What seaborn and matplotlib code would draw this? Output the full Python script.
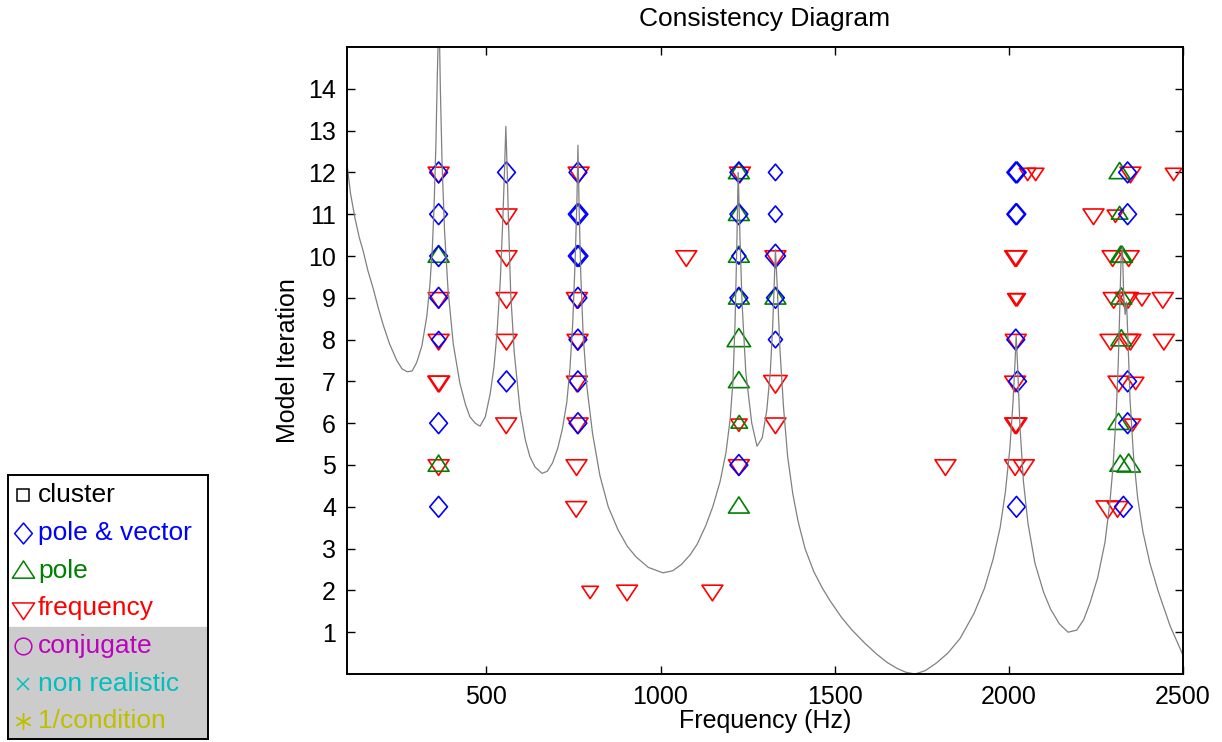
import numpy as np
import pandas as pd
import matplotlib
matplotlib.use("Agg")
import matplotlib.pyplot as plt
from matplotlib.path import Path
from matplotlib.patches import Rectangle
import seaborn as sns

# ---------------- data ----------------
# background response curve
curve_freq = [100, 110, 123, 135, 147, 160, 176, 190, 204, 222, 243, 258, 273, 287, 300,
              315, 329, 338, 345, 350, 355, 359, 364,
              368, 373, 380, 390, 405, 424, 440, 453, 468, 482, 497, 511, 522, 531,
              540, 547, 552, 556, 560, 564, 570, 580, 597, 612, 625, 640, 660, 675,
              690, 705, 718, 731, 740, 748, 755, 760, 763, 766, 771, 778, 789, 805,
              826, 850, 878, 905, 930, 965, 1007, 1035, 1060, 1085, 1105, 1130, 1150,
              1171, 1188, 1200, 1208, 1214, 1219, 1223, 1228, 1234, 1245, 1262, 1277,
              1292, 1305, 1315, 1322, 1327, 1330, 1335, 1343, 1353, 1365, 1380, 1395,
              1415, 1440, 1465, 1487, 1520, 1550, 1585, 1620, 1650, 1680, 1705, 1731,
              1760, 1790, 1825, 1860, 1900, 1930, 1955, 1975, 1990, 2003, 2012, 2018,
              2021, 2025, 2032, 2042, 2055, 2075, 2100, 2120, 2145, 2170, 2195, 2215,
              2233, 2255, 2276, 2290, 2299, 2308, 2314, 2318, 2322, 2326, 2330, 2334,
              2338, 2342, 2348, 2358, 2370, 2385, 2405, 2430, 2463, 2500]
curve_amp = [12.2, 11.5, 10.9, 10.45, 10.1, 9.65, 9.2, 8.75, 8.35, 7.9, 7.5, 7.3, 7.23, 7.25, 7.45,
             7.85, 8.55, 9.3, 10.2, 11.2, 12.6, 14.2, 16.0,
             14.0, 12.2, 10.6, 9.2, 7.9, 6.96, 6.45, 6.15, 6.0, 5.93, 6.15, 6.7, 7.35, 8.2,
             9.4, 10.8, 12.0, 13.1, 12.0, 10.7, 9.1, 7.7, 6.3, 5.6, 5.2, 4.95, 4.8, 4.85,
             5.05, 5.4, 5.85, 6.5, 7.3, 8.4, 9.9, 11.3, 12.65, 11.3, 9.6, 8.1, 6.85, 5.75,
             4.75, 4.0, 3.45, 3.05, 2.8, 2.55, 2.42, 2.47, 2.62, 2.85, 3.1, 3.55, 4.0,
             4.6, 5.3, 6.1, 7.0, 8.4, 10.2, 12.0, 10.5, 8.9, 7.2, 6.0, 5.45,
             5.65, 6.3, 7.2, 8.3, 9.5, 10.15, 9.3, 7.75, 6.4, 5.2, 4.3, 3.65,
             3.0, 2.45, 2.05, 1.75, 1.35, 1.05, 0.75, 0.48, 0.28, 0.13, 0.04, 0.0,
             0.08, 0.25, 0.5, 0.85, 1.45, 2.05, 2.75, 3.5, 4.35, 5.4, 6.5, 7.5,
             8.1, 7.4, 5.9, 4.6, 3.6, 2.65, 1.95, 1.55, 1.2, 1.0, 1.05, 1.3,
             1.7, 2.3, 3.15, 4.1, 4.95, 6.2, 7.4, 8.6, 9.9, 10.2, 9.0, 8.6,
             8.9, 8.0, 6.55, 5.2, 4.2, 3.4, 2.65, 1.95, 1.15, 0.45]

# "pole & vector" (blue diamonds)
pv_freq = [363, 363, 363, 363, 363, 363, 363,
           558, 558,
           763, 761, 766, 761, 766, 763, 763, 763, 763,
           1225, 1225, 1225, 1225, 1225,
           1330, 1330, 1330, 1330, 1330,
           2020, 2024, 2020, 2023, 2020, 2025, 2022,
           2341, 2341, 2341, 2341, 2329]
pv_iter = [12, 11, 10, 9, 8, 6, 4,
           12, 7,
           12, 11, 11, 10, 10, 9, 8, 7, 6,
           12, 11, 10, 9, 5,
           12, 11, 10, 9, 8,
           12, 12, 11, 11, 8, 7, 4,
           12, 11, 7, 6, 4]
pv_size = ["M", "M", "M", "M", "S", "M", "M",
           "M", "M",
           "M", "M", "M", "M", "M", "M", "M", "M", "M",
           "M", "M", "S", "M", "M",
           "S", "S", "L", "M", "S",
           "M", "M", "M", "M", "M", "M", "M",
           "M", "M", "M", "M", "M"]

# "pole" (green up triangles)
pole_freq = [363, 363,
             1225, 1225, 1225, 1225, 1225, 1225, 1226, 1225,
             1330,
             2318, 2318, 2321, 2325, 2323, 2323, 2315, 2320, 2344]
pole_iter = [10, 5,
             12, 11, 10, 9, 8, 7, 6, 4,
             9,
             12, 11, 10, 10, 9, 8, 6, 5, 5]
pole_size = ["M", "M",
             "M", "M", "M", "M", "L", "M", "S", "M",
             "M",
             "M", "S", "M", "M", "M", "M", "M", "M", "L"]

# "frequency" (red down triangles)
fr_freq = [363, 363, 363, 362, 365, 363,
           558, 558, 558, 558, 557,
           765, 760, 762, 760, 762, 759, 758,
           1074, 798, 904, 1149, 1818,
           1228, 1225, 1225,
           1330, 1330, 1330,
           2054, 2077, 2018, 2022, 2020, 2024, 2020, 2018, 2018, 2022, 2018, 2043,
           2349, 2473, 2243, 2306, 2298, 2344, 2301, 2335, 2342, 2382, 2442,
           2292, 2341, 2349, 2445, 2315, 2364, 2355, 2284, 2312]
fr_iter = [12, 9, 8, 7, 7, 5,
           11, 10, 9, 8, 6,
           12, 9, 8, 7, 6, 5, 4,
           10, 2, 2, 2, 5,
           12, 6, 5,
           10, 7, 6,
           12, 12, 10, 10, 9, 9, 8, 7, 6, 6, 5, 5,
           12, 12, 11, 11, 10, 10, 9, 9, 9, 9, 9,
           8, 8, 8, 8, 7, 7, 6, 4, 4]
fr_size = ["M", "M", "M", "M", "M", "M",
           "M", "M", "M", "M", "M",
           "M", "M", "M", "M", "M", "M", "M",
           "M", "S", "M", "M", "M",
           "M", "S", "M",
           "M", "L", "M",
           "S", "S", "M", "M", "S", "S", "M", "M", "M", "M", "M", "M",
           "M", "S", "M", "S", "M", "M", "M", "M", "M", "S", "M",
           "M", "M", "M", "M", "M", "S", "S", "L", "M"]

legend_labels = ["cluster", "pole & vector", "pole", "frequency",
                 "conjugate", "non realistic", "1/condition"]

# ---------------- styling ----------------
sns.set_theme(style="white")
plt.rcParams["font.family"] = ["Liberation Sans", "DejaVu Sans"]
plt.rcParams["text.color"] = "black"
plt.rcParams["axes.labelcolor"] = "black"
FS = 18
FS_BIG = 19

BLUE = (0, 0, 1)
GREEN = (0, 0.5, 0)
RED = (1, 0, 0)
MAGENTA = (0.75, 0, 0.75)
CYAN = (0, 0.75, 0.75)
OLIVE = (0.75, 0.75, 0)

diamond = Path([(0, 1), (0.85, 0), (0, -1), (-0.85, 0), (0, 1)], closed=True)
tri_down = Path([(-1, 0.5), (1, 0.5), (0, -1.0), (-1, 0.5)], closed=True)
tri_up = Path([(-1, -0.6), (1, -0.6), (0, 0.95), (-1, -0.6)], closed=True)
size_map = {"S": 140, "M": 225, "L": 285}

fig = plt.figure(figsize=(12.22, 7.42), dpi=100)
ax = fig.add_axes([347 / 1222, 1 - 674 / 742, (1183 - 347) / 1222, (674 - 47) / 742])

curve_df = pd.DataFrame({"f": curve_freq, "a": curve_amp})
sns.lineplot(data=curve_df, x="f", y="a", sort=False, estimator=None,
             color=(0.5, 0.5, 0.5), linewidth=0.9, ax=ax)

for fx, it, sz, path, col in [
    (fr_freq, fr_iter, fr_size, tri_down, RED),
    (pole_freq, pole_iter, pole_size, tri_up, GREEN),
    (pv_freq, pv_iter, pv_size, diamond, BLUE),
]:
    df = pd.DataFrame({"f": fx, "it": it, "sz": sz})
    sns.scatterplot(data=df, x="f", y="it", size="sz", sizes=size_map,
                    marker=path, facecolor="none", edgecolor=col,
                    linewidth=1.2, legend=False, ax=ax)

ax.set_xlim(100, 2500)
ax.set_ylim(0, 15)
ax.set_xticks([500, 1000, 1500, 2000, 2500])
ax.set_yticks(range(1, 15))
ax.tick_params(direction="in", length=6, width=1, top=True, right=True,
               bottom=True, left=True, labelsize=FS, colors="black",
               labelcolor="black", pad=8)
for sp in ax.spines.values():
    sp.set_color("black")
    sp.set_linewidth(1.4)
ax.set_xlabel("Frequency (Hz)", fontsize=FS, labelpad=0, color="black")
ax.set_ylabel("Model Iteration", fontsize=FS, labelpad=6, color="black")
ax.set_title("Consistency Diagram", fontsize=FS_BIG, pad=15, color="black")
ax.grid(False)

# ---------------- legend box ----------------
lax = fig.add_axes([8 / 1222, 3 / 742, 200 / 1222, 264 / 742])
lax.set_xlim(0, 1)
lax.set_ylim(0, 1)
lax.set_xticks([])
lax.set_yticks([])
lax.add_patch(Rectangle((0, 0), 1, 0.424, color="#cccccc", zorder=0))
for sp in lax.spines.values():
    sp.set_color("black")
    sp.set_linewidth(1.4)
rows_y = [0.924, 0.780, 0.636, 0.496, 0.352, 0.208, 0.068]
leg_markers = [("s", "black", 9), (diamond, BLUE, 15), (tri_up, GREEN, 16),
               (tri_down, RED, 16), ("o", MAGENTA, 12), ("x", CYAN, 8),
               ("*", OLIVE, 12)]
for (m, c, ms), lab, yy in zip(leg_markers, legend_labels, rows_y):
    if m == "*":
        lax.plot([0.075], [yy], marker=(6, 2, 0), color=c, ms=ms, mew=1.0, linestyle="none")
    else:
        lax.plot([0.075], [yy], marker=m, mfc="none", mec=c, ms=ms, mew=1.1,
                 linestyle="none")
    lax.text(0.15, yy, lab, color=c, fontsize=FS_BIG, va="center", ha="left")

fig.savefig("out.png", dpi=100)
